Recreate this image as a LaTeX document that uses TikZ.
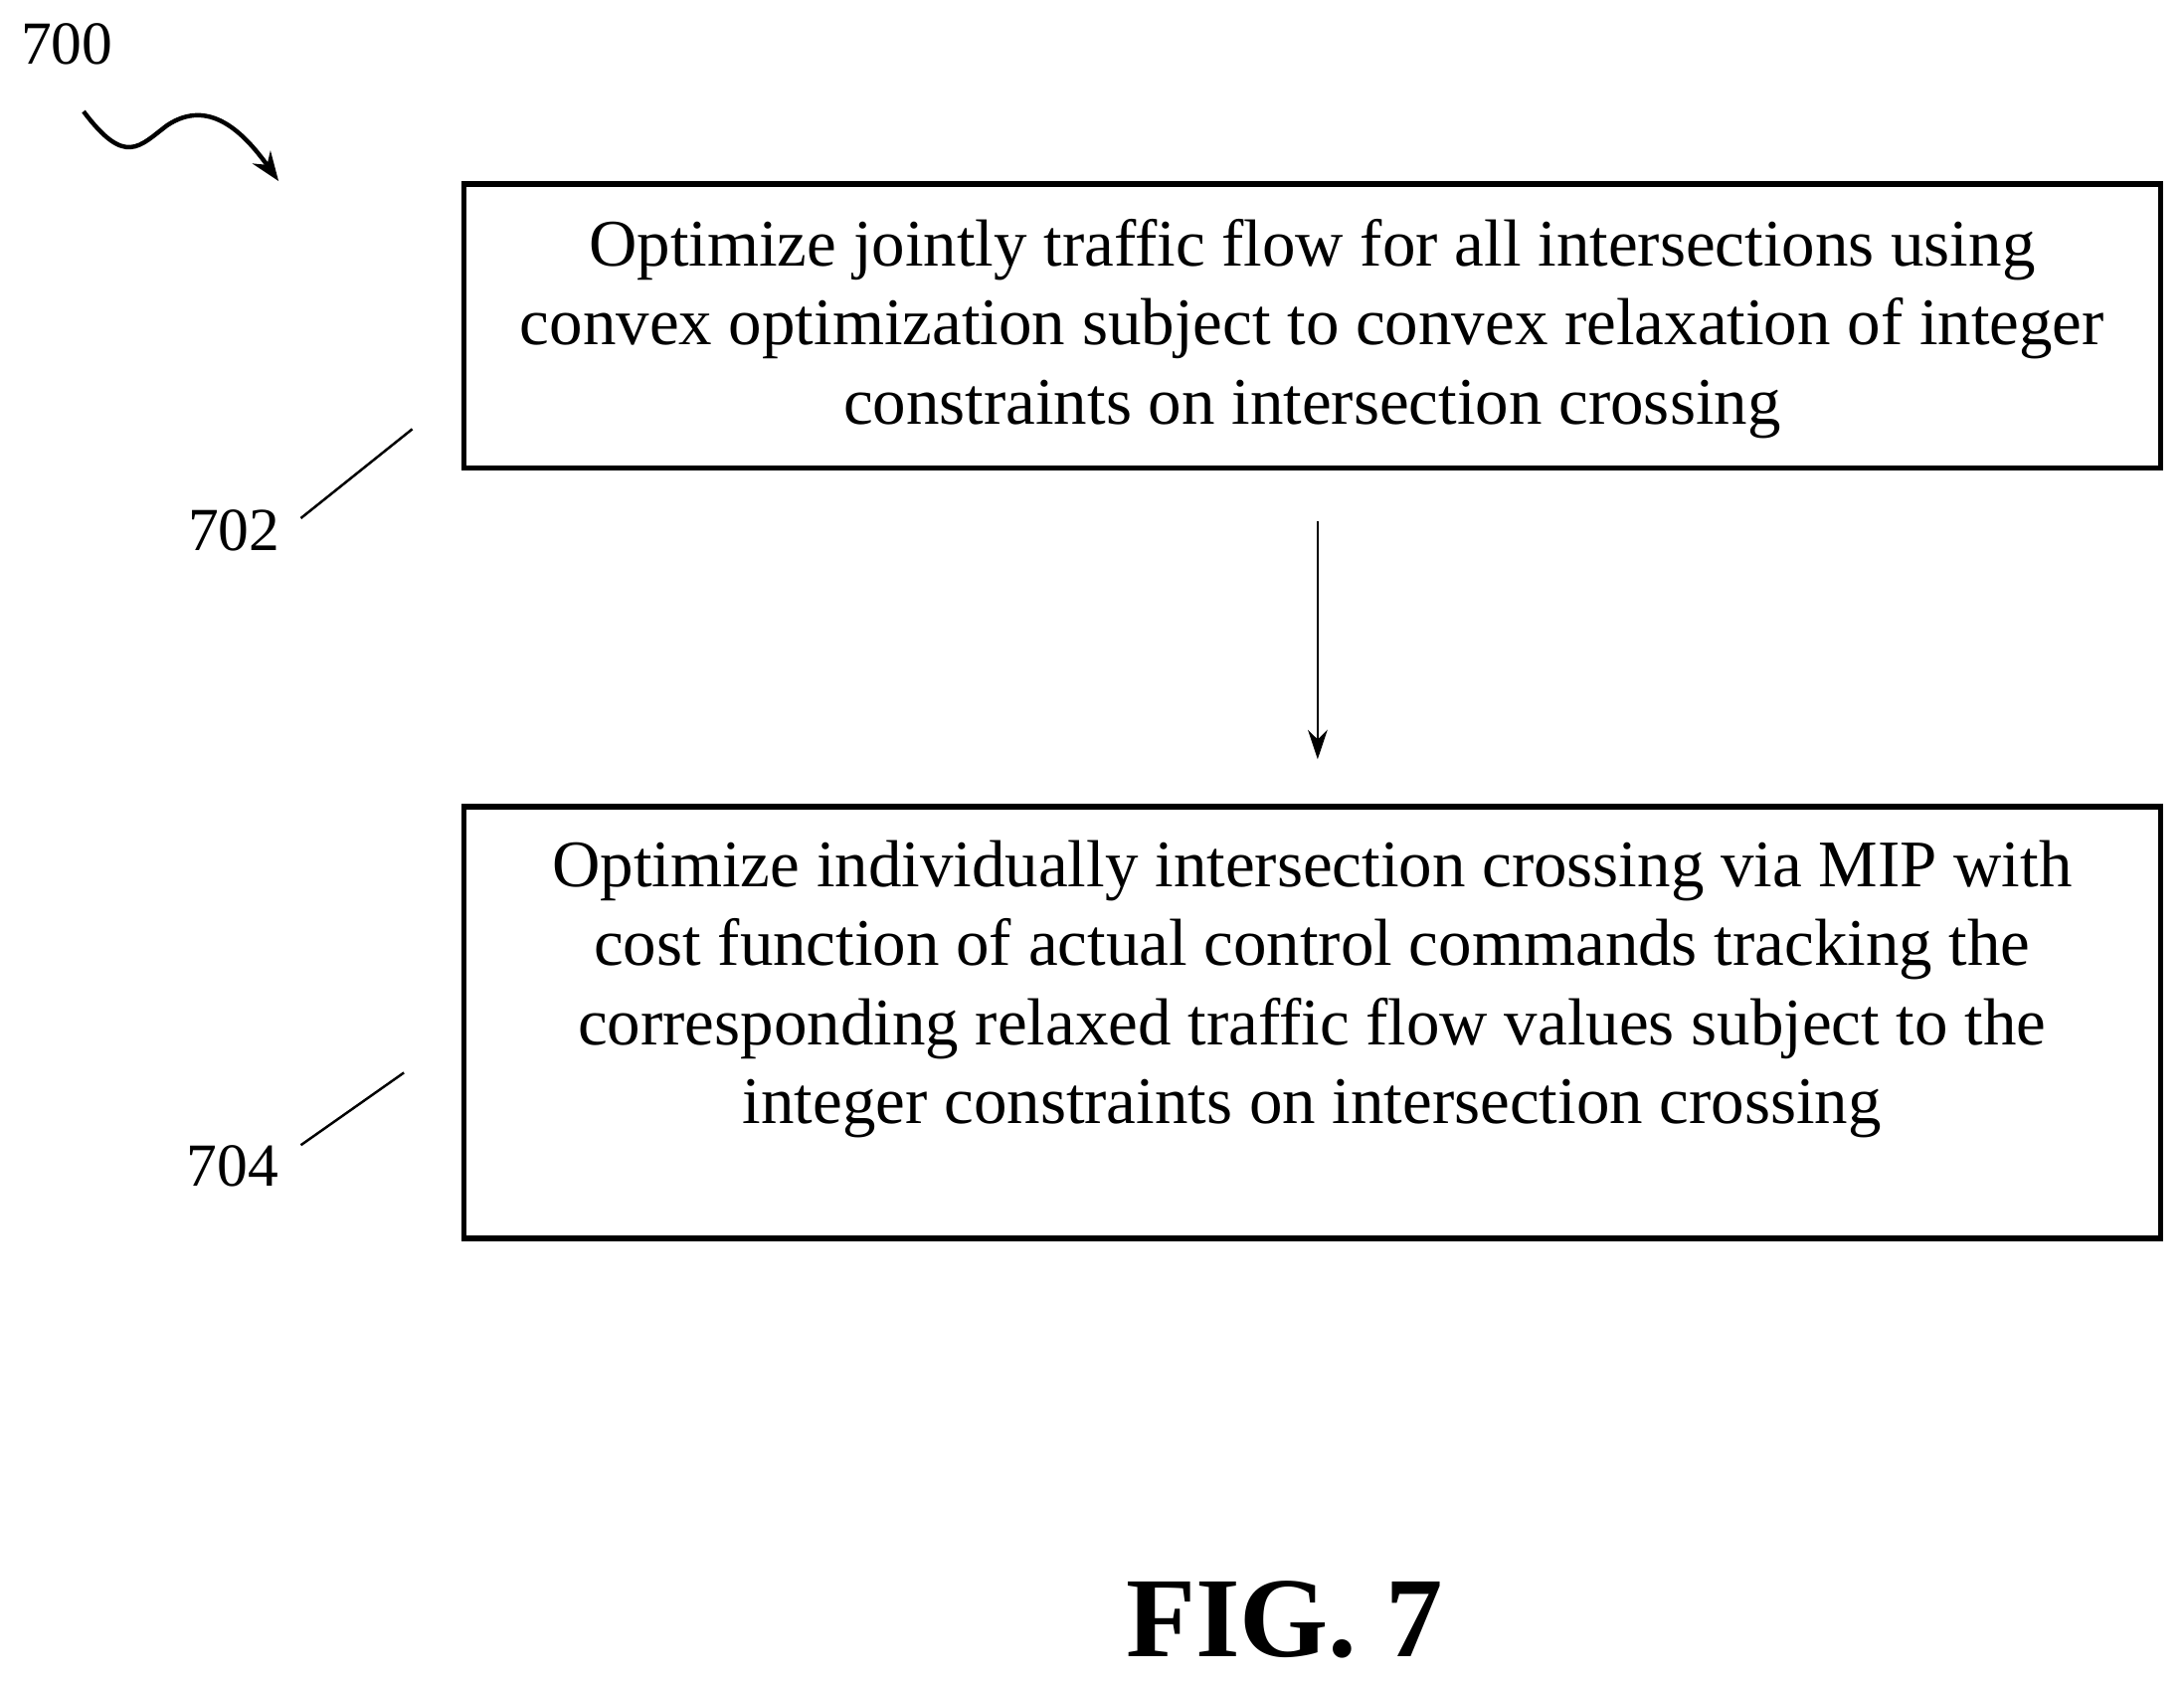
\documentclass[tikz,border=0pt]{standalone}
\usepackage{fontspec}
\setmainfont{Liberation Serif}
\usetikzlibrary{arrows.meta}
\begin{document}
\begin{tikzpicture}[x=0.02cm,y=-0.02cm,
  box/.style={draw,line width=2.2pt},
  txt/.style={align=center,font=\fontsize{27.2}{32.3}\selectfont},
  lbl/.style={font=\fontsize{25}{30}\selectfont},
  lead/.style={line width=1pt},
  arr/.style={line width=1pt,-{Stealth[length=12pt,width=8pt]}}]
\useasboundingbox (0,0) rectangle (1568,1210);
\node[box,minimum width=1218*0.02cm,minimum height=204*0.02cm] (b1) at (942,234) {};
\node[txt] (t1) at (942,236) {Optimize jointly traffic flow for all intersections using\\convex optimization subject to convex relaxation of integer\\constraints on intersection crossing};
\node[box,minimum width=1218*0.02cm,minimum height=310*0.02cm] (b2) at (942,734) {};
\node[txt] (t2) at (942,710) {Optimize individually intersection crossing via MIP with\\cost function of actual control commands tracking the\\corresponding relaxed traffic flow values subject to the\\integer constraints on intersection crossing};
\coordinate (a1) at (946,374);
\coordinate (a2) at (946,545);
\draw[arr] (a1) -- (a2);
\node[lbl] (l702) at (168,381) {702};
\node[lbl] (l704) at (167,837) {704};
\node[lbl] (l700) at (48,32) {700};
\coordinate (c702a) at (216,372); \coordinate (c702b) at (296,308);
\coordinate (c704a) at (216,822); \coordinate (c704b) at (290,770);
\draw[lead] (c702a) -- (c702b);
\draw[lead] (c704a) -- (c704b);
\coordinate (s0) at (60,80); \coordinate (s1) at (200,130);
\draw[line width=1.8pt,-{Stealth[length=12pt,width=9pt]}] (s0) .. controls (90,120) and (100,105) .. (120,90) .. controls (150,70) and (175,95) .. (s1);
\node[font=\bfseries\fontsize{46.6}{54}\selectfont] (fig) at (922,1163) {FIG. 7};
\end{tikzpicture}
\end{document}
